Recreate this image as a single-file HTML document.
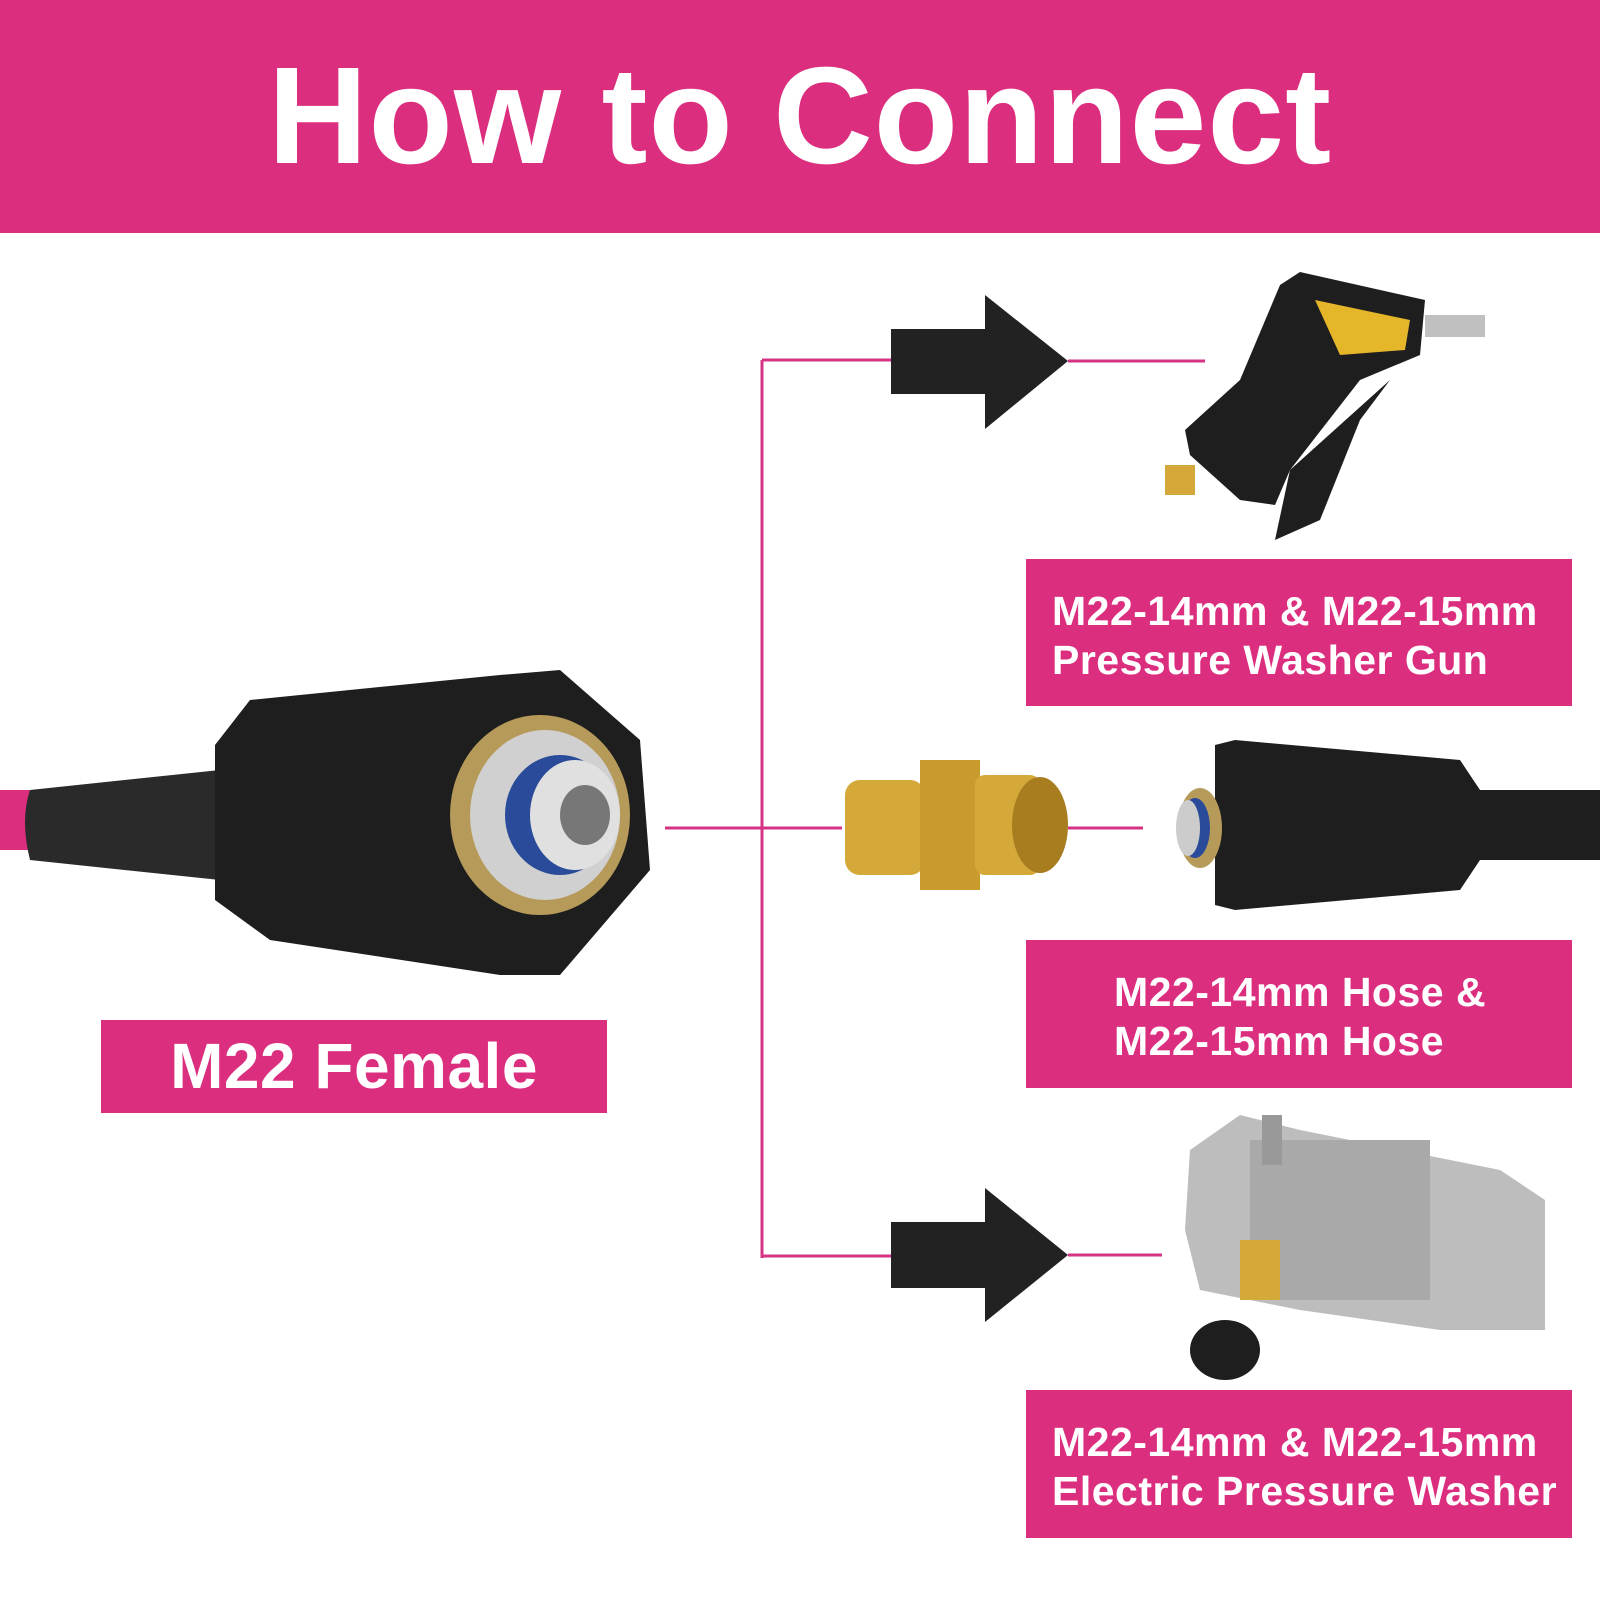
<!DOCTYPE html>
<html><head><meta charset="utf-8"><style>
body{margin:0;width:1600px;height:1600px;background:#fff;position:relative;overflow:hidden;font-family:"Liberation Sans",sans-serif}
.hdr{position:absolute;left:0;top:0;width:1600px;height:233px;background:#dc2e7f;color:#fff;font-weight:bold;font-size:138px;text-align:center;line-height:233px;letter-spacing:1px}
.box{position:absolute;background:#dc2e7f;color:#fff;font-weight:bold;font-size:41px;line-height:49px;box-sizing:border-box;letter-spacing:0.5px}
svg{position:absolute;left:0;top:0}
</style></head><body>
<div class="hdr">How to Connect</div>
<svg width="1600" height="1600">
<g stroke="#d63384" stroke-width="3" fill="none">
<line x1="762" y1="360" x2="762" y2="1258"/>
<line x1="762" y1="360" x2="893" y2="360"/>
<line x1="1068" y1="361" x2="1205" y2="361"/>
<line x1="665" y1="828" x2="842" y2="828"/>
<line x1="1068" y1="828" x2="1143" y2="828"/>
<line x1="762" y1="1256" x2="893" y2="1256"/>
<line x1="1068" y1="1255" x2="1162" y2="1255"/>
</g>
<g fill="#222">
<polygon points="891,329 985,329 985,295 1068,361 985,429 985,394 891,394"/>
<polygon points="891,1222 985,1222 985,1188 1068,1255 985,1322 985,1288 891,1288"/>
</g>
<rect x="0" y="790" width="40" height="60" fill="#dc2e7f"/>
<path d="M30 790 Q20 820 30 860 L220 880 L220 770 Z" fill="#2a2a2a"/>
<path d="M215 745 L250 700 L500 675 L560 670 L640 740 L650 870 L560 975 L500 975 L270 940 L215 900 Z" fill="#1e1e1e"/>
<ellipse cx="540" cy="815" rx="90" ry="100" fill="#b69a5a"/>
<ellipse cx="545" cy="815" rx="75" ry="85" fill="#d0d0d0"/>
<ellipse cx="560" cy="815" rx="55" ry="60" fill="#2a4a9a"/>
<ellipse cx="575" cy="815" rx="45" ry="55" fill="#e0e0e0"/>
<ellipse cx="585" cy="815" rx="25" ry="30" fill="#777"/>
<rect x="845" y="780" width="80" height="95" rx="15" fill="#d4a93a"/>
<rect x="920" y="760" width="60" height="130" fill="#c99a2e"/>
<rect x="975" y="775" width="65" height="100" rx="10" fill="#d4a93a"/>
<ellipse cx="1040" cy="825" rx="28" ry="48" fill="#a87d20"/>
<path d="M1215 745 L1235 740 L1460 760 L1480 790 L1600 790 L1600 860 L1480 860 L1460 890 L1235 910 L1215 905 Z" fill="#1e1e1e"/>
<ellipse cx="1200" cy="828" rx="22" ry="40" fill="#b69a5a"/>
<ellipse cx="1195" cy="828" rx="15" ry="30" fill="#2a4a9a"/>
<ellipse cx="1188" cy="828" rx="12" ry="28" fill="#ccc"/>
<path d="M1280 285 L1300 272 L1425 300 L1420 355 L1360 380 L1290 470 L1275 505 L1240 500 L1190 455 L1185 430 L1240 380 Z" fill="#1e1e1e"/>
<path d="M1315 300 L1410 320 L1405 350 L1340 355 Z" fill="#e5b52a"/>
<path d="M1390 380 L1360 420 L1320 520 L1275 540 L1290 470 Z" fill="#1e1e1e"/>
<rect x="1425" y="315" width="60" height="22" fill="#c0c0c0"/>
<rect x="1165" y="465" width="30" height="30" fill="#d4a93a"/>
<path d="M1190 1150 L1240 1115 L1300 1130 L1500 1170 L1545 1200 L1545 1330 L1440 1330 L1300 1310 L1200 1290 L1185 1230 Z" fill="#bdbdbd"/>
<rect x="1250" y="1140" width="180" height="160" fill="#a9a9a9"/>
<rect x="1240" y="1240" width="40" height="60" fill="#d4a93a"/>
<ellipse cx="1225" cy="1350" rx="35" ry="30" fill="#1e1e1e"/>
<rect x="1262" y="1115" width="20" height="50" fill="#999"/>
</svg>
<div class="box" style="left:1026px;top:559px;width:546px;height:147px;padding:28px 0 0 26px">M22-14mm &amp; M22-15mm<br>Pressure Washer Gun</div>
<div class="box" style="left:1026px;top:940px;width:546px;height:148px;padding:28px 0 0 88px">M22-14mm Hose &amp;<br>M22-15mm Hose</div>
<div class="box" style="left:1026px;top:1390px;width:546px;height:148px;padding:28px 0 0 26px">M22-14mm &amp; M22-15mm<br>Electric Pressure Washer</div>
<div class="box" style="left:101px;top:1020px;width:506px;height:93px;font-size:64px;line-height:93px;text-align:center">M22 Female</div>
</body></html>
